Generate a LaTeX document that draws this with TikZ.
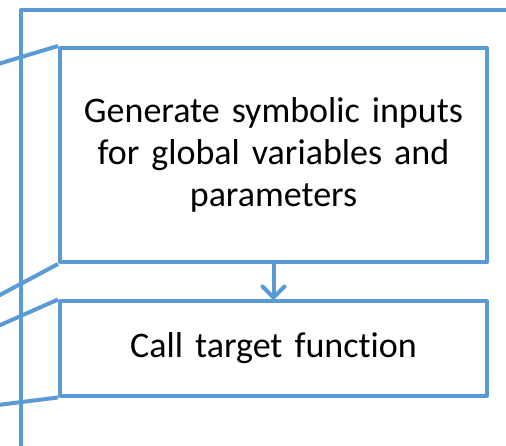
\documentclass[tikz,border=0pt]{standalone}
\usepackage{fontspec}
\setmainfont{Carlito}[Ligatures=NoCommon]
\usetikzlibrary{arrows.meta}
\definecolor{blu}{HTML}{5B9BD5}
\tikzset{
  ln/.style={draw=blu, line width=4pt, line join=round},
  box/.style={ln, rectangle, minimum width=427pt, text width=410pt, align=center, inner sep=0pt, font=\fontsize{36}{42}\selectfont},
}
\begin{document}
\begin{tikzpicture}[x=1pt,y=-1pt]
\clip (0,0) rectangle (506,446);
\useasboundingbox (0,0) rectangle (506,446);
\draw[ln] (21,460) -- (21,10) -- (520,10);
\node[box, minimum height=214pt] (b1) at (273.5,155) {Generate symbolic inputs\\for global variables and\\parameters};
\node[box, minimum height=94pt] (b2) at (273.5,348.5) {Call target function};
\coordinate (l1) at (-2,64);
\coordinate (l2) at (-2,296);
\coordinate (l3) at (-2,326);
\coordinate (l4) at (-2,405);
\draw[ln] (l1) -- (b1.north west);
\draw[ln] (l2) -- (b1.south west);
\draw[ln] (l3) -- (b2.north west);
\draw[ln] (l4) -- (b2.south west);
\draw[ln, -{Straight Barb[length=11pt,width=22pt,line width=4pt,round]}] (b1.south) -- (b2.north);
\end{tikzpicture}
\end{document}
